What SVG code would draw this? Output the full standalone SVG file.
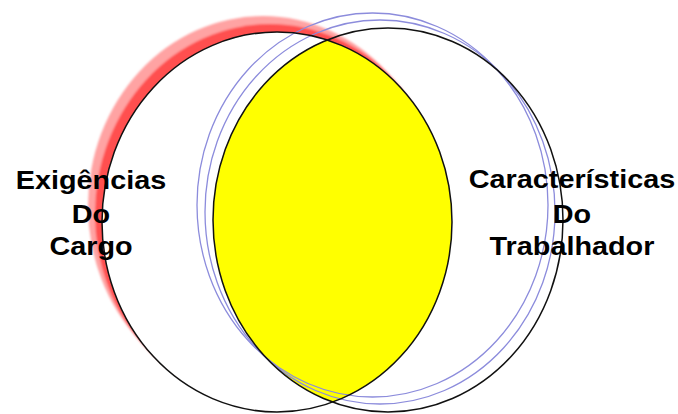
<svg xmlns="http://www.w3.org/2000/svg" width="678" height="414" viewBox="0 0 678 414">
<style>
.lbl{font-family:"Liberation Sans",Arial,sans-serif;font-weight:bold;font-size:25.5px;fill:#000;text-anchor:middle}
.blk{fill:none;stroke:#111;stroke-width:1.5}
.blu{fill:none;stroke:#8c8cdc;stroke-width:1.3}
</style>
<defs>
<filter id="soft" x="-10%" y="-10%" width="120%" height="120%"><feGaussianBlur stdDeviation="1.2"/></filter>
<clipPath id="leftClip"><ellipse cx="277" cy="222" rx="175" ry="190"/></clipPath>
</defs>
<rect width="678" height="414" fill="#fff"/>
<g id="shadow" filter="url(#soft)">
<ellipse cx="263" cy="206" rx="175" ry="190" fill="#ffa3a3"/>
<ellipse cx="270" cy="214" rx="175" ry="190" fill="#ff5050"/>
</g>
<g id="left-circle">
<ellipse cx="277" cy="222" rx="175" ry="190" fill="#ffffff"/>
</g>
<g id="intersection">
<ellipse cx="388" cy="220" rx="175" ry="192" fill="#ffff00" clip-path="url(#leftClip)"/>
</g>
<g id="right-rings">
<ellipse class="blu" cx="372.5" cy="205" rx="175.5" ry="192"/>
<ellipse class="blu" cx="380" cy="212" rx="175" ry="192"/>
</g>
<g id="outlines">
<ellipse class="blk" cx="277" cy="222" rx="175" ry="190"/>
<ellipse class="blk" cx="388" cy="220" rx="175" ry="192"/>
</g>
<g id="label-left" transform="translate(91,0) scale(1.13,1)">
<text class="lbl" x="0" y="189">Exigências</text>
<text class="lbl" x="0" y="223">Do</text>
<text class="lbl" x="0" y="255">Cargo</text>
</g>
<g id="label-right" transform="translate(572,0) scale(1.13,1)">
<text class="lbl" x="0" y="188">Características</text>
<text class="lbl" x="0" y="223">Do</text>
<text class="lbl" x="0" y="255">Trabalhador</text>
</g>
</svg>
